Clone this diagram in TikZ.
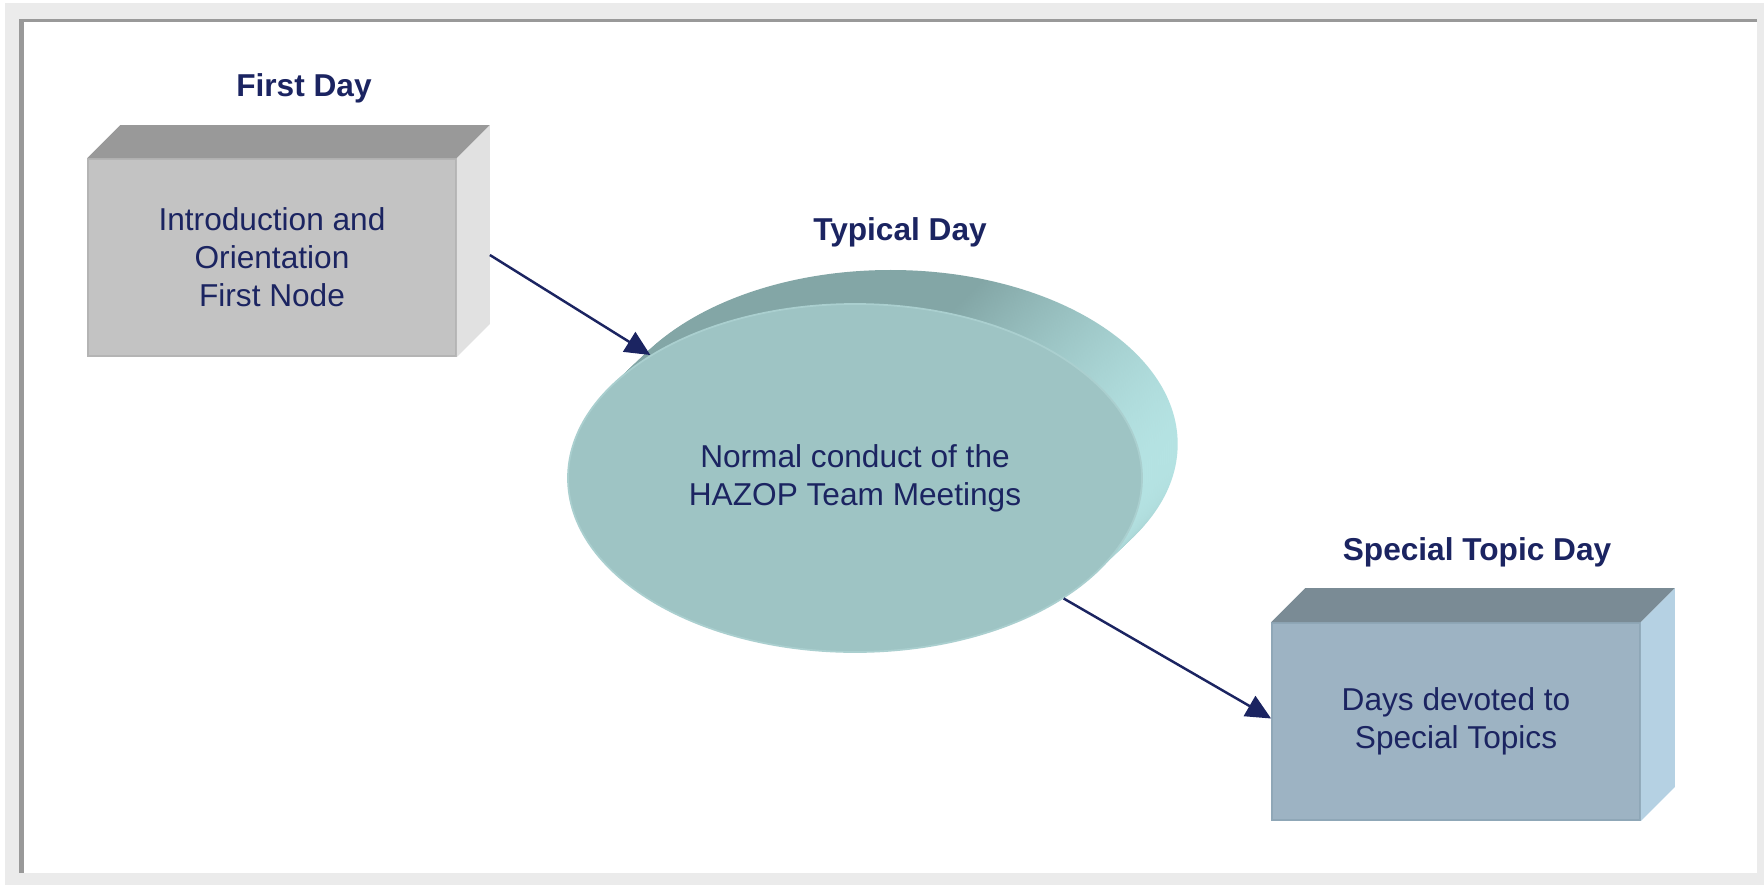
\documentclass[tikz,border=0pt]{standalone}
\usepackage{fontspec}
\setmainfont{Liberation Sans}
\usetikzlibrary{shapes.geometric,arrows.meta}

\definecolor{navy}{RGB}{27,36,97}
\definecolor{framegray}{RGB}{235,235,235}
\definecolor{framedark}{RGB}{153,153,153}
\definecolor{boxAfront}{RGB}{195,195,195}
\definecolor{boxAtop}{RGB}{153,153,153}
\definecolor{boxAside}{RGB}{225,225,225}
\definecolor{boxAedge}{RGB}{180,180,180}
\definecolor{tealfront}{RGB}{158,196,196}
\definecolor{tealedge}{RGB}{170,207,207}
\definecolor{tealdark}{RGB}{131,166,166}
\definecolor{teallight}{RGB}{181,227,227}
\definecolor{boxBfront}{RGB}{157,179,195}
\definecolor{boxBtop}{RGB}{122,139,149}
\definecolor{boxBside}{RGB}{181,209,227}
\definecolor{boxBedge}{RGB}{143,167,183}

\pgfdeclarehorizontalshading{extrude}{100bp}{color(0bp)=(tealdark); color(25bp)=(tealdark);
    color(58bp)=(tealdark); color(75bp)=(teallight); color(100bp)=(teallight)}

\begin{document}
\begin{tikzpicture}
\tikzset{
    lbl/.style={font=\fontsize{9}{10.8}\selectfont\bfseries, text=navy, anchor=base},
    face/.style={rectangle, minimum width=3.68cm, minimum height=1.97cm, inner sep=0pt,
        align=center, text=navy, font=\fontsize{9}{10.8}\selectfont, line width=0.5pt},
    flow/.style={draw=navy, line width=0.7pt, -{Triangle[length=2.5mm,width=2.3mm]}}
}

% --- frame ---
\useasboundingbox (0,0) rectangle (17.64,8.85);
\fill[white] (0,0) rectangle (17.64,8.85);
\fill[framegray] (0.05,0) rectangle (17.64,8.82);
\fill[framedark] (0.19,0.12) rectangle (17.57,8.66);
\fill[white] (0.24,0.12) rectangle (17.57,8.63);

% --- first day ---
\node[face, fill=boxAfront, draw=boxAedge] (fday) at (2.72,6.275) {Introduction and\\Orientation\\First Node};
\fill[boxAtop] (fday.north west) -- ++(0.33,0.33) -- ([shift={(0.33,0.33)}]fday.north east) -- (fday.north east) -- cycle;
\fill[boxAside] (fday.north east) -- ++(0.33,0.33) -- ([shift={(0.33,0.33)}]fday.south east) -- (fday.south east) -- cycle;
\node[lbl] (fdaylbl) at (3.04,7.89) {First Day};

% --- typical day ---
\coordinate (tc) at (8.55,4.07);
\foreach \k in {17,...,1}
    \shade[shading=extrude]
        ([shift={(\k*0.021,\k*0.02)}]tc) ellipse [x radius=2.87, y radius=1.74];
\node[ellipse, minimum width=5.74cm, minimum height=3.48cm, inner sep=0pt, fill=tealfront,
    draw=tealedge, line width=0.5pt, align=center, text=navy, font=\fontsize{9}{10.8}\selectfont]
    (tday) at (tc) {Normal conduct of the\\HAZOP Team Meetings};
\node[lbl] (tdaylbl) at (9.00,6.45) {Typical Day};

% --- special topic day ---
\node[face, fill=boxBfront, draw=boxBedge] (sday) at (14.56,1.635) {Days devoted to\\Special Topics};
\fill[boxBtop] (sday.north west) -- ++(0.34,0.34) -- ([shift={(0.34,0.34)}]sday.north east) -- (sday.north east) -- cycle;
\fill[boxBside] (sday.north east) -- ++(0.34,0.34) -- ([shift={(0.34,0.34)}]sday.south east) -- (sday.south east) -- cycle;
\node[lbl] (sdaylbl) at (14.77,3.25) {Special Topic Day};

% --- arrows ---
\draw[flow] ([shift={(0.33,0.025)}]fday.east) -- (tday.149);
\draw[flow] (tday.-30) -- ([yshift=0.03cm]sday.west);
\end{tikzpicture}
\end{document}
